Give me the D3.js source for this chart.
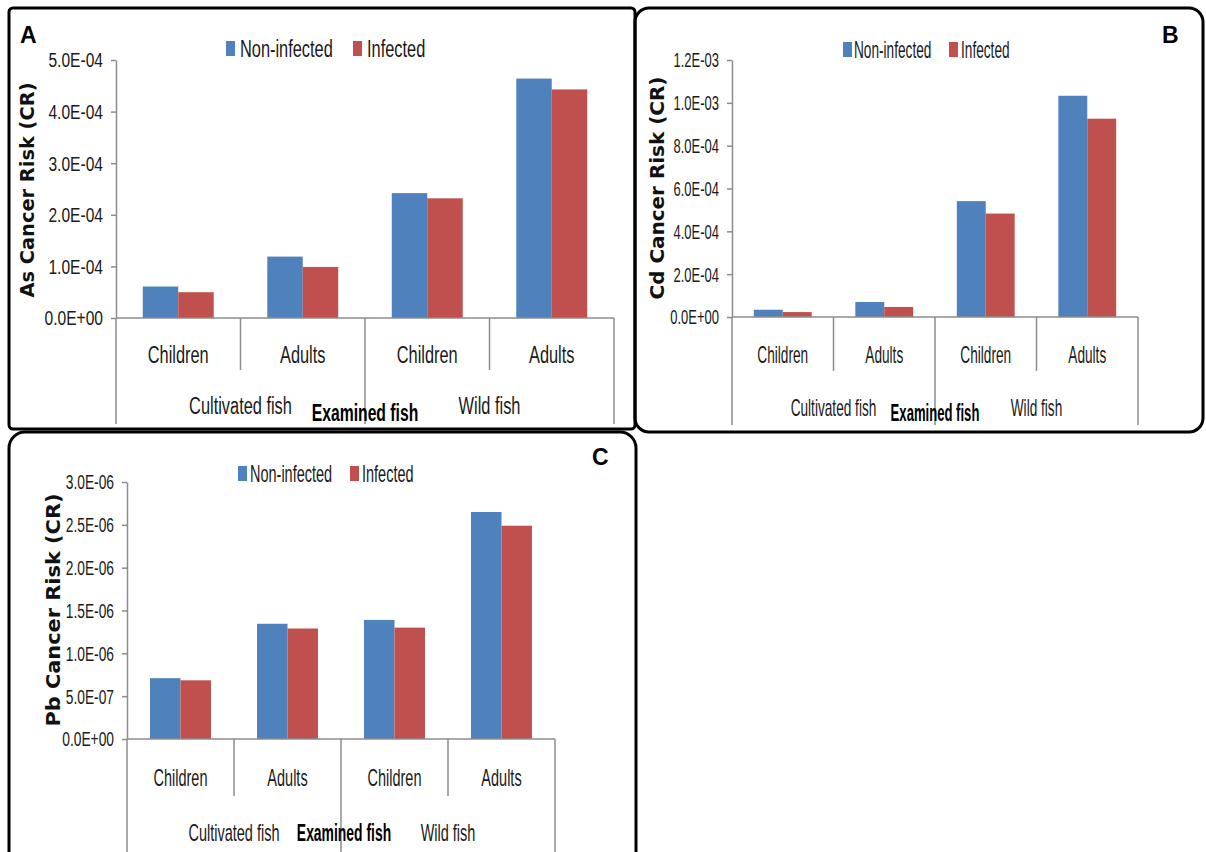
<!DOCTYPE html>
<html>
<head>
<meta charset="utf-8">
<script src="https://cdn.jsdelivr.net/npm/d3@7"></script>
<style>
  html,body{margin:0;padding:0;background:#fff;}
  svg{display:block;}
</style>
</head>
<body>
<svg id="chart" width="1206" height="852"></svg>
<script>
// ---------------- DATA ----------------
const categories = ["Children", "Adults", "Children", "Adults"];
const groups = ["Cultivated fish", "Wild fish"];
const seriesNames = ["Non-infected", "Infected"];
const axisTitleX = "Examined fish";

const asNonInfected = [6.1e-5, 1.19e-4, 2.42e-4, 4.64e-4];
const asInfected    = [5.0e-5, 0.99e-4, 2.32e-4, 4.43e-4];
const asTicks       = [0, 1e-4, 2e-4, 3e-4, 4e-4, 5e-4];
const asTickLabels  = ["0.0E+00", "1.0E-04", "2.0E-04", "3.0E-04", "4.0E-04", "5.0E-04"];

const cdNonInfected = [3.4e-5, 7.0e-5, 5.41e-4, 1.033e-3];
const cdInfected    = [2.3e-5, 4.7e-5, 4.83e-4, 9.26e-4];
const cdTicks       = [0, 2e-4, 4e-4, 6e-4, 8e-4, 1e-3, 1.2e-3];
const cdTickLabels  = ["0.0E+00", "2.0E-04", "4.0E-04", "6.0E-04", "8.0E-04", "1.0E-03", "1.2E-03"];

const pbNonInfected = [7.1e-7, 1.345e-6, 1.39e-6, 2.65e-6];
const pbInfected    = [6.85e-7, 1.29e-6, 1.30e-6, 2.49e-6];
const pbTicks       = [0, 5e-7, 1e-6, 1.5e-6, 2e-6, 2.5e-6, 3e-6];
const pbTickLabels  = ["0.0E+00", "5.0E-07", "1.0E-06", "1.5E-06", "2.0E-06", "2.5E-06", "3.0E-06"];

const seriesColors = ["#4F81BD", "#C0504D"];

// ---------------- LAYOUT ----------------
const FONT = "'Liberation Sans', Arial, sans-serif";
const svg = d3.select("#chart");

// frames
svg.append("rect").attr("x", 9).attr("y", 8).attr("width", 626).attr("height", 421)
  .attr("rx", 4).attr("fill", "none").attr("stroke", "#000").attr("stroke-width", 3);
svg.append("rect").attr("x", 635).attr("y", 8).attr("width", 568).attr("height", 424)
  .attr("rx", 14).attr("fill", "none").attr("stroke", "#000").attr("stroke-width", 3);
svg.append("rect").attr("x", 9).attr("y", 432).attr("width", 627).attr("height", 460)
  .attr("rx", 16).attr("fill", "none").attr("stroke", "#000").attr("stroke-width", 3);

const panels = [
  { letter: "A", title: "As Cancer Risk (CR)", nonInf: asNonInfected, inf: asInfected,
    ticks: asTicks, tickLabels: asTickLabels,
    x0: 116, x1: 614, base: 318, top: 60, sx: 0.78,
    catY: 355, innerBottom: 370, outerBottom: 424, groupY: 406, examY: 413, examX: 365,
    titleX: 27, titleY: 190, titleLen: 215,
    letterX: 20, letterY: 43,
    leg: { y: 41, b: 226, bt: 240, r: 353, rt: 367 } },
  { letter: "B", title: "Cd Cancer Risk (CR)", nonInf: cdNonInfected, inf: cdInfected,
    ticks: cdTicks, tickLabels: cdTickLabels,
    x0: 732, x1: 1138, base: 317, top: 60, sx: 0.65,
    catY: 355, innerBottom: 371, outerBottom: 425, groupY: 408, examY: 413, examX: 935,
    titleX: 657, titleY: 188, titleLen: 223,
    letterX: 1162, letterY: 43,
    leg: { y: 42, b: 843, bt: 854, r: 949, rt: 961 } },
  { letter: "C", title: "Pb Cancer Risk (CR)", nonInf: pbNonInfected, inf: pbInfected,
    ticks: pbTicks, tickLabels: pbTickLabels,
    x0: 127, x1: 555, base: 739, top: 482, sx: 0.69,
    catY: 778, innerBottom: 796, outerBottom: 860, groupY: 833, examY: 833, examX: 344,
    titleX: 53, titleY: 610, titleLen: 233,
    letterX: 592, letterY: 465,
    leg: { y: 466, b: 238, bt: 250, r: 350, rt: 362 } }
];

function txt(g, x, y, s, o) {
  return g.append("text")
    .attr("transform", `translate(${x},${y}) scale(${o.sx || 1},1)`)
    .attr("text-anchor", o.anchor || "start")
    .attr("dy", o.dy || "0.35em")
    .attr("font-family", o.family || FONT)
    .attr("font-size", o.size || 20)
    .attr("font-weight", o.weight || "normal")
    .attr("fill", o.fill || "#1a1a1a")
    .text(s);
}

const AXIS = "#8c8c8c";
const LBL = 23, LSX = 21 / 23;

panels.forEach(p => {
  const g = svg.append("g");
  const yMax = p.ticks[p.ticks.length - 1];
  const y = d3.scaleLinear().domain([0, yMax]).range([p.base, p.top]);
  const x = d3.scaleBand().domain(d3.range(categories.length)).range([p.x0, p.x1]).padding(0);
  const xi = d3.scaleBand().domain(seriesNames).range([0, x.bandwidth()])
    .paddingInner(0).paddingOuter(0.755);

  const rows = categories.map((c, i) => ({ i, vals: [p.nonInf[i], p.inf[i]] }));

  // bars
  const cat = g.selectAll("g.cat").data(rows).join("g")
    .attr("transform", d => `translate(${x(d.i)},0)`);
  cat.selectAll("rect").data(d => d.vals.map((v, k) => ({ v, k }))).join("rect")
    .attr("x", d => xi(seriesNames[d.k]))
    .attr("width", xi.bandwidth())
    .attr("y", d => y(d.v))
    .attr("height", d => p.base - y(d.v))
    .attr("fill", d => seriesColors[d.k]);

  // y axis
  const ax = d3.axisLeft(y).tickValues(p.ticks).tickSize(5).tickSizeOuter(0)
    .tickFormat((d, i) => p.tickLabels[i]);
  const axg = g.append("g").attr("transform", `translate(${p.x0},0)`).call(ax);
  axg.select(".domain").attr("stroke", AXIS).attr("stroke-width", 1.5);
  axg.selectAll(".tick line").attr("stroke", AXIS).attr("stroke-width", 1.5);
  axg.selectAll(".tick text").remove();
  p.ticks.forEach((t, i) => {
    txt(g, p.x0 - 13, y(t), p.tickLabels[i], { anchor: "end", size: 21, sx: p.sx * 20 / 21 });
  });

  // x baseline
  g.append("line").attr("x1", p.x0).attr("x2", p.x1).attr("y1", p.base).attr("y2", p.base)
    .attr("stroke", AXIS).attr("stroke-width", 1.5);

  // separators
  const bounds = d3.range(categories.length + 1).map(i => i < categories.length ? x(i) : p.x1);
  bounds.forEach((bx, i) => {
    const outer = (i % 2 === 0);
    g.append("line").attr("x1", bx).attr("x2", bx)
      .attr("y1", p.base).attr("y2", outer ? p.outerBottom : p.innerBottom)
      .attr("stroke", AXIS).attr("stroke-width", 1.5);
  });

  // category labels
  categories.forEach((c, i) => {
    txt(g, x(i) + x.bandwidth() / 2, p.catY, c, { anchor: "middle", size: LBL, sx: p.sx * LSX });
  });
  // group labels
  groups.forEach((gr, j) => {
    const cx = x(j * 2) + x.bandwidth();
    txt(g, cx, p.groupY, gr, { anchor: "middle", size: LBL, sx: p.sx * LSX });
  });
  txt(g, p.examX, p.examY, axisTitleX, { anchor: "middle", size: LBL, weight: "bold", sx: p.sx * LSX * 0.96, fill: "#000" });

  // y title
  g.append("text")
    .attr("transform", `translate(${p.titleX},${p.titleY}) rotate(-90)`)
    .attr("text-anchor", "middle").attr("dy", "0.35em")
    .attr("font-family", "'DejaVu Sans', Verdana, sans-serif")
    .attr("font-weight", "bold").attr("font-size", 19)
    .attr("textLength", p.titleLen).attr("lengthAdjust", "spacingAndGlyphs")
    .attr("fill", "#111")
    .text(p.title);

  // panel letter
  g.append("text").attr("x", p.letterX).attr("y", p.letterY)
    .attr("font-family", "'Liberation Sans', Arial, sans-serif")
    .attr("font-weight", "bold").attr("font-size", 23).attr("fill", "#000")
    .text(p.letter);

  // legend
  const L = p.leg;
  [[L.b, L.bt], [L.r, L.rt]].forEach(([sxp, tx], k) => {
    g.append("rect").attr("x", sxp).attr("y", L.y).attr("width", 9).attr("height", 15)
      .attr("fill", seriesColors[k]);
    txt(g, tx, L.y + 7.5, seriesNames[k], { size: LBL, sx: p.sx * LSX });
  });
});
</script>
</body>
</html>
